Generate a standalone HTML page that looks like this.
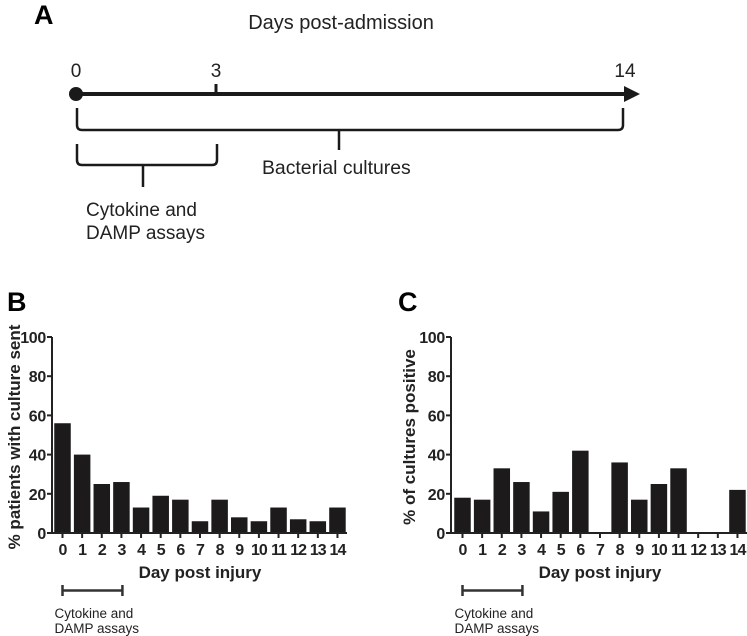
<!DOCTYPE html>
<html><head><meta charset="utf-8"><style>
html,body{margin:0;padding:0;background:#fff;}
svg{display:block;font-family:"Liberation Sans",Arial,sans-serif;}
</style></head><body>
<svg id="fig" width="747" height="636" viewBox="0 0 747 636" xmlns="http://www.w3.org/2000/svg">
<g>
<text x="34" y="24" font-size="27" font-weight="bold">A</text>
<text x="341" y="29" font-size="20" text-anchor="middle" fill="#222">Days post-admission</text>
<text x="76" y="77" font-size="19" text-anchor="middle" fill="#222">0</text>
<text x="216" y="77" font-size="19" text-anchor="middle" fill="#222">3</text>
<text x="625" y="77" font-size="19" text-anchor="middle" fill="#222">14</text>
<line x1="76" y1="94" x2="626" y2="94" stroke="#1a1a1a" stroke-width="4"/>
<circle cx="76" cy="94" r="7" fill="#1a1a1a"/>
<polygon points="624,86 640,94 624,102" fill="#1a1a1a"/>
<line x1="216" y1="84" x2="216" y2="94" stroke="#1a1a1a" stroke-width="3"/>
<path d="M77,108 V125 Q77,130 82,130 H618 Q623,130 623,125 V108 M339,130 V150" fill="none" stroke="#1a1a1a" stroke-width="2.5"/>
<text x="262" y="174" font-size="19.4" fill="#222">Bacterial cultures</text>
<path d="M77,144 V160 Q77,165 82,165 H212 Q217,165 217,160 V144 M143,165 V187" fill="none" stroke="#1a1a1a" stroke-width="2.5"/>
<text x="86" y="216" font-size="19" fill="#222">Cytokine and</text>
<text x="86" y="239" font-size="19" fill="#222">DAMP assays</text>
</g>
<g id="chartB"></g>
<g id="chartC"></g>
</svg>
<script>
const days = [0,1,2,3,4,5,6,7,8,9,10,11,12,13,14];
const yTicks = [0,20,40,60,80,100];
const valuesB = [56,40,25,26,13,19,17,6,17,8,6,13,7,6,13];
const valuesC = [18,17,33,26,11,21,42,0,36,17,25,33,0,0,22];

const NS = "http://www.w3.org/2000/svg";
function mk(parent, tag, attrs, text) {
  const e = document.createElementNS(NS, tag);
  for (const k in attrs) e.setAttribute(k, attrs[k]);
  if (text !== undefined) e.textContent = text;
  parent.appendChild(e);
  return e;
}
function drawChart(gid, axisX, firstCenter, axisEnd, letter, letterX, yTitle, yTitleX, values, prefix) {
  const g = document.getElementById(gid);
  const y0 = 533, y100 = 337;
  const yScale = v => y0 - (v / 100) * (y0 - y100);
  const pitch = 19.64;
  const xScale = i => firstCenter + i * pitch;
  const bw = 16.5;
  let t = mk(g, "text", {x: letterX, y: 311, "font-size": 27, "font-weight": "bold"}, letter);
  
  
  values.forEach((v, i) => {
    const r = mk(g, "rect", {x: xScale(i) - bw / 2, y: yScale(v), width: bw, height: y0 - yScale(v), fill: "#1c1a1b"});
    
    
  });
  let ax = mk(g, "path", {d: `M${axisX},${y100} V${y0} H${axisEnd}`, fill: "none", stroke: "#222", "stroke-width": 2});
  
  
  yTicks.forEach(v => {
    const l = mk(g, "line", {x1: axisX - 5, x2: axisX, y1: yScale(v), y2: yScale(v), stroke: "#222", "stroke-width": 2});
    
    
    const tx = mk(g, "text", {x: axisX - 6, y: yScale(v) + 6, "font-size": 16, "font-weight": "bold", "text-anchor": "end", fill: "#222", "letter-spacing": "-0.3"}, String(v));
    
    
  });
  days.forEach((d, i) => {
    const l = mk(g, "line", {x1: xScale(i), x2: xScale(i), y1: y0, y2: y0 + 5, stroke: "#222", "stroke-width": 2});
    
    
    const tx = mk(g, "text", {x: xScale(i), y: y0 + 22, "font-size": 16, "font-weight": "bold", "text-anchor": "middle", fill: "#222", "letter-spacing": "-1"}, String(d));
    
    
  });
  const midX = (xScale(0) + xScale(14)) / 2;
  let xt = mk(g, "text", {x: midX, y: 578, "font-size": 17, "font-weight": "bold", "text-anchor": "middle", fill: "#222"}, "Day post injury");
  
  
  let yt = mk(g, "text", {x: 0, y: 0, "font-size": 17, "font-weight": "bold", "text-anchor": "middle", fill: "#222", transform: `translate(${yTitleX},437) rotate(-90)`}, yTitle);
  
  
  const bx1 = xScale(0), bx2 = xScale(3) + 1;
  let br = mk(g, "path", {d: `M${bx1},585 V596 M${bx1},590.5 H${bx2} M${bx2},585 V596`, fill: "none", stroke: "#333", "stroke-width": 2.5});
  
  
  let a1 = mk(g, "text", {x: bx1 - 8, y: 618, "font-size": 13.5, fill: "#222"}, "Cytokine and");
  
  
  let a2 = mk(g, "text", {x: bx1 - 8, y: 633, "font-size": 13.5, fill: "#222"}, "DAMP assays");
  
  
}
drawChart("chartB", 52, 62.5, 347, "B", 7, "% patients with culture sent", 20, valuesB, "b");
drawChart("chartC", 451, 462.5, 747, "C", 398, "% of cultures positive", 415, valuesC, "c");
</script>
</body></html>
